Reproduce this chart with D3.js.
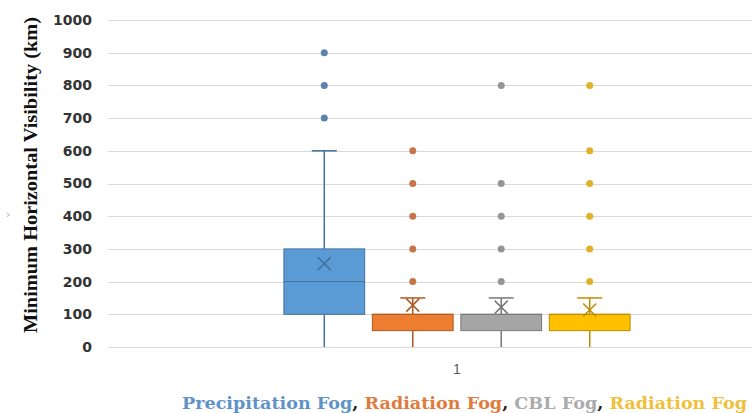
<!DOCTYPE html>
<html>
<head>
<meta charset="utf-8">
<script src="https://cdn.jsdelivr.net/npm/d3@7"></script>
<style>
  body { margin: 0; background: #fff; }
  svg { display: block; }
</style>
</head>
<body>
<svg id="chart"></svg>
<script>
const CHART_WIDTH = 752;
const CHART_HEIGHT = 413;
const PLOT = { left: 108, right: 806, top: 20, bottom: 347 };

// data
const CATEGORIES = ["1"];
const SERIES = ["Precipitation Fog", "Radiation Fog", "CBL Fog", "Radiation Fog "];
const MINS = [0, 0, 0, 0];
const Q1S = [100, 50, 50, 50];
const MEDIANS = [200, 100, 100, 100];
const Q3S = [300, 100, 100, 100];
const MAXS = [600, 150, 150, 150];
const MEANS = [255, 128, 122, 113];
const OUTLIERS = [
    [700, 800, 900],
    [200, 300, 400, 500, 600],
    [200, 300, 400, 500, 800],
    [200, 300, 400, 500, 600, 800]
];
const Y_TICKS = [0, 100, 200, 300, 400, 500, 600, 700, 800, 900, 1000];

const FILLS = ["#5B9BD5", "#ED7D31", "#A5A5A5", "#FFC000"];
const LINES = ["#41719C", "#AE5A21", "#787878", "#BC8C00"];
const DOTS = ["#5A84AE", "#C77548", "#959595", "#E2B12A"];
const LEGEND_COLORS = ["#5E93C8", "#E07B3E", "#ABABAB", "#F0C03C"];

const svg = d3.select('#chart')
    .attr("width", CHART_WIDTH)
    .attr("height", CHART_HEIGHT)

const y = d3.scaleLinear()
    .domain([0, 1000])
    .range([PLOT.bottom, PLOT.top])

const x = d3.scaleBand()
    .domain(CATEGORIES)
    .range([PLOT.left, PLOT.right])
    .paddingOuter(0.483)

const xs = d3.scaleBand()
    .domain(SERIES)
    .range([0, x.bandwidth()])
    .paddingInner(0.087)
    .paddingOuter(0.05)

// gridlines
svg.append("g")
    .selectAll("line")
    .data(Y_TICKS)
    .join("line")
    .attr("x1", PLOT.left)
    .attr("x2", PLOT.right)
    .attr("y1", d => Math.round(y(d)) + 0.5)
    .attr("y2", d => Math.round(y(d)) + 0.5)
    .attr("stroke", "#d9d9d9")
    .attr("stroke-width", 1)

// y axis labels
const yAxis = svg.append("g")
    .attr("transform", `translate(${PLOT.left - 16},0)`)
    .call(d3.axisLeft(y).tickValues(Y_TICKS).tickFormat(d3.format("d")).tickSize(0).tickPadding(0))
yAxis.select(".domain").remove()
yAxis.selectAll("text")
    .attr("font-family", "'DejaVu Sans', sans-serif")
    .attr("font-weight", "bold")
    .attr("font-size", 14)
    .attr("fill", "#333")

// category label
const xAxis = svg.append("g")
    .attr("transform", `translate(0,${PLOT.bottom + 17})`)
    .call(d3.axisBottom(x).tickSize(0).tickPadding(0))
xAxis.select(".domain").remove()
xAxis.selectAll("text")
    .attr("font-family", "'Liberation Sans', Arial, sans-serif")
    .attr("font-size", 14)
    .attr("fill", "#595959")

// y title
svg.append("text")
    .attr("transform", "translate(37,175) rotate(-90)")
    .attr("text-anchor", "middle")
    .attr("font-family", "'Liberation Serif', 'Times New Roman', serif")
    .attr("font-weight", "bold")
    .attr("font-size", 19)
    .attr("textLength", 316)
    .attr("lengthAdjust", "spacingAndGlyphs")
    .attr("fill", "#111")
    .text("Minimum Horizontal Visibility (km)")

svg.append("text")
    .attr("x", 6)
    .attr("y", 218)
    .attr("font-family", "'DejaVu Sans', sans-serif")
    .attr("font-size", 11)
    .attr("fill", "#aaa")
    .text("›")

// boxes
const boxes = svg.append("g")
    .selectAll("g")
    .data(SERIES.map((s, i) => ({
        name: s, i: i, min: MINS[i], q1: Q1S[i], med: MEDIANS[i], q3: Q3S[i],
        max: MAXS[i], mean: MEANS[i], outliers: OUTLIERS[i]
    })))
    .join("g")
    .attr("transform", d => `translate(${x("1") + xs(d.name)},0)`)

const bw = xs.bandwidth()
const cx = bw / 2
const capW = 25

boxes.append("line")
    .attr("x1", cx).attr("x2", cx)
    .attr("y1", d => y(d.q3)).attr("y2", d => y(d.max))
    .attr("stroke", d => LINES[d.i]).attr("stroke-width", 1.5)
boxes.append("line")
    .attr("x1", cx).attr("x2", cx)
    .attr("y1", d => y(d.q1)).attr("y2", d => y(d.min))
    .attr("stroke", d => LINES[d.i]).attr("stroke-width", 1.5)
boxes.append("line")
    .attr("x1", cx - capW / 2).attr("x2", cx + capW / 2)
    .attr("y1", d => y(d.max)).attr("y2", d => y(d.max))
    .attr("stroke", d => LINES[d.i]).attr("stroke-width", 1.5)

boxes.append("rect")
    .attr("x", 0)
    .attr("width", bw)
    .attr("y", d => y(d.q3))
    .attr("height", d => y(d.q1) - y(d.q3))
    .attr("fill", d => FILLS[d.i])
    .attr("stroke", d => LINES[d.i])
    .attr("stroke-width", 1)

boxes.append("line")
    .attr("x1", 0).attr("x2", bw)
    .attr("y1", d => y(d.med)).attr("y2", d => y(d.med))
    .attr("stroke", d => LINES[d.i]).attr("stroke-width", 1)

// mean markers
const mk = 6.5
boxes.append("path")
    .attr("d", d => `M${cx - mk},${y(d.mean) - mk}L${cx + mk},${y(d.mean) + mk}M${cx - mk},${y(d.mean) + mk}L${cx + mk},${y(d.mean) - mk}`)
    .attr("stroke", d => LINES[d.i])
    .attr("stroke-width", 1.5)
    .attr("fill", "none")

// outliers
boxes.each(function(d) {
    d3.select(this).selectAll("circle")
        .data(d.outliers)
        .join("circle")
        .attr("cx", cx)
        .attr("cy", v => y(v))
        .attr("r", 3.5)
        .attr("fill", DOTS[d.i])
})

// legend line under the chart
const legend = svg.append("text")
    .attr("x", 182)
    .attr("y", 409)
    .attr("font-family", "'DejaVu Serif', serif")
    .attr("font-weight", "bold")
    .attr("font-size", 17)
    .attr("textLength", 565)
    .attr("lengthAdjust", "spacingAndGlyphs")

SERIES.forEach((s, i) => {
    legend.append("tspan").attr("fill", LEGEND_COLORS[i]).text(s.trim())
    if (i < SERIES.length - 1) {
        legend.append("tspan").attr("fill", "#222").text(", ")
    }
})
</script>
</body>
</html>
